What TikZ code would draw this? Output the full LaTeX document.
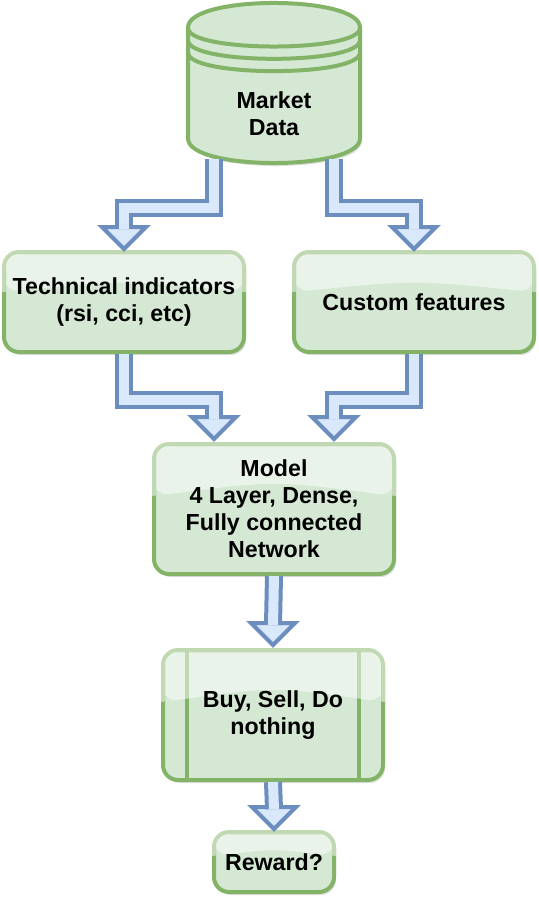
\documentclass[tikz,border=0pt]{standalone}
\usepackage{fontspec}
\setmainfont{Liberation Sans}
\usepackage{tikz}
\usepackage{xcolor}
\usetikzlibrary{calc,shadows}
\definecolor{LeafFill}{HTML}{D5E8D4}
\definecolor{LeafLine}{HTML}{82B366}
\definecolor{SkyFill}{HTML}{DAE8FC}
\definecolor{SkyLine}{HTML}{6C8EBF}

\newcommand{\headdown}[1]{%
  \filldraw[fill=SkyFill,draw=SkyLine,line width=2pt,line join=miter] (#1) -- ++(-22,-22) -- ++(44,0) -- cycle;}
\newcommand{\glassfill}{%
  \fill[white,fill opacity=0.5] (path picture bounding box.north west)
    -- ($(path picture bounding box.north west)!0.4!(path picture bounding box.south west)$)
    .. controls ($(path picture bounding box.north)!0.28!(path picture bounding box.south)$)
    .. ($(path picture bounding box.north east)!0.4!(path picture bounding box.south east)$)
    -- (path picture bounding box.north east) -- cycle;}
\newcommand{\glassrim}[1]{%
  \begin{scope}[even odd rule,rounded corners=7.5pt]
    \clip ($(#1.north west)+(-2,-2)$) rectangle ($(#1.south east)+(2,2)$)
      ($(#1.north west)+(2,2)$) rectangle ($(#1.south east)+(-2,-2)$);
    \fill[white,fill opacity=0.5,sharp corners] ($(#1.north west)+(-2,-2)$) -- ($(#1.north west)!0.4!(#1.south west)+(-2,0)$)
      .. controls ($(#1.north)!0.28!(#1.south)$) .. ($(#1.north east)!0.4!(#1.south east)+(2,0)$) -- ($(#1.north east)+(2,-2)$) -- cycle;
  \end{scope}}

\begin{document}
\begin{tikzpicture}[
      x=0.5pt,y=-0.5pt,
      font=\fontsize{11.6}{13.5}\selectfont\bfseries,
      box/.style={draw=LeafLine,fill=LeafFill,line width=2pt,rounded corners=7.5pt,align=center,inner sep=0pt,outer sep=0pt,
        drop shadow={shadow xshift=1pt,shadow yshift=-1.5pt,opacity=0.25},path picture={\glassfill}},
      procbox/.style={box,path picture={
        \draw[LeafLine,line width=2pt] ($(path picture bounding box.north west)+(24,0)$) -- ($(path picture bounding box.south west)+(24,0)$);
        \draw[LeafLine,line width=2pt] ($(path picture bounding box.north east)+(-24,0)$) -- ($(path picture bounding box.south east)+(-24,0)$);
        \glassfill}},
      dbbox/.style={minimum width=86pt,minimum height=80pt,inner sep=0pt,outer sep=0pt},
      cyl/.style={draw=LeafLine,fill=LeafFill,line width=2pt,drop shadow={shadow xshift=1pt,shadow yshift=-1.5pt,opacity=0.25}},
      cylline/.style={draw=LeafLine,line width=2pt},
      shaft/.style={draw=SkyLine,double=SkyFill,double distance=5pt,line width=2pt}
    ]
      \useasboundingbox (0,0) rectangle (538,899);

      \node[dbbox] (market) at (274,83) {};
      \begin{scope}[shift={(market.north west)}]
        \draw[cyl] (0,24.5) .. controls (0,-8.2) and (172,-8.2) .. (172,24.5) -- (172,135.5)
          .. controls (172,168.2) and (0,168.2) .. (0,135.5) -- cycle;
        \draw[cylline] (0,25) .. controls (0,49.7) and (172,49.7) .. (172,25);
        \draw[cylline] (0,37.3) .. controls (0,62) and (172,62) .. (172,37.3);
        \draw[cylline] (0,49.6) .. controls (0,74.3) and (172,74.3) .. (172,49.6);
      \end{scope}
      \node[align=center] (marketlbl) at ($(market.center)+(0,31)$) {Market\\Data};

      \node[box,minimum width=120pt,minimum height=50pt] (tech) at (124,302) {Technical indicators\\(rsi, cci, etc)};
      \node[box,minimum width=120pt,minimum height=50pt] (custom) at (414,302) {Custom features};
      \node[box,minimum width=120pt,minimum height=65pt] (model) at (274,509) {Model\\4 Layer, Dense,\\Fully connected\\Network};
      \node[procbox,minimum width=110pt,minimum height=65pt] (action) at (273,715) {Buy, Sell, Do\\nothing};
      \node[box,minimum width=60pt,minimum height=30pt] (reward) at (274,862) {Reward?};
      \glassrim{tech}
      \glassrim{custom}
      \glassrim{model}
      \glassrim{action}
      \glassrim{reward}

      \headdown{$(tech.north)+(0,-3)$}
      \draw[shaft] ($(market.south)+(-60,-4)$) |- ($(tech.north)+(0,-44)$) -- ($(tech.north)+(0,-23)$);
      \headdown{$(custom.north)+(0,-3)$}
      \draw[shaft] ($(market.south)+(60,-4)$) |- ($(custom.north)+(0,-44)$) -- ($(custom.north)+(0,-23)$);
      \headdown{$(model.north)+(-60,-5)$}
      \draw[shaft] ($(tech.south)+(0,2)$) |- ($(model.north)+(-60,-44)$) -- ($(model.north)+(-60,-25)$);
      \headdown{$(model.north)+(60,-5)$}
      \draw[shaft] ($(custom.south)+(0,2)$) |- ($(model.north)+(60,-44)$) -- ($(model.north)+(60,-25)$);
      \headdown{$(action.north)+(0,-5)$}
      \draw[shaft] ($(model.south)+(0,2)$) -- ($(action.north)+(0,-25)$);
      \headdown{$(reward.north)+(0,-3)$}
      \draw[shaft] ($(action.south)+(0,2)$) -- ($(reward.north)+(0,-23)$);
    \end{tikzpicture}
\end{document}
